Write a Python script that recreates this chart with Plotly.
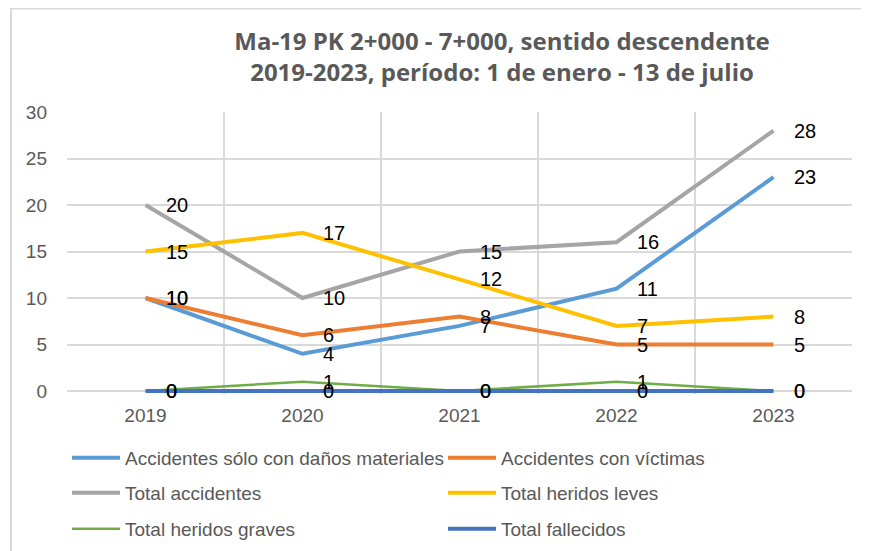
import plotly.graph_objects as go

years = ["2019", "2020", "2021", "2022", "2023"]
series_names = [
    "Accidentes sólo con daños materiales",
    "Accidentes con víctimas",
    "Total accidentes",
    "Total heridos leves",
    "Total heridos graves",
    "Total fallecidos",
]
danos_materiales = [10, 4, 7, 11, 23]
con_victimas = [10, 6, 8, 5, 5]
total_accidentes = [20, 10, 15, 16, 28]
heridos_leves = [15, 17, 12, 7, 8]
heridos_graves = [0, 1, 0, 1, 0]
fallecidos = [0, 0, 0, 0, 0]

values = [danos_materiales, con_victimas, total_accidentes, heridos_leves, heridos_graves, fallecidos]
colors = ["#5B9BD5", "#ED7D31", "#A5A5A5", "#FFC000", "#70AD47", "#4472C4"]
widths = [4, 4, 4, 4, 2.5, 4]
legend_ids = ["legend", "legend", "legend2", "legend2", "legend3", "legend3"]

# the page body has an 8px margin, so the figure is laid out 8px smaller
OFF = 8
W, H = 869 - OFF, 551 - OFF
PAD = 3  # extra pixels below zero so the zero-valued lines are not clipped
L, R, T, B = 67 - OFF, 17, 112 - OFF, 160 - PAD
FONT = "Liberation Sans, Arial, sans-serif"
YMAX = 30
ymin = -PAD * YMAX / (H - T - B - PAD)

fig = go.Figure()
for name, vals, col, w, lg in zip(series_names, values, colors, widths, legend_ids):
    fig.add_trace(go.Scatter(
        x=years, y=vals, name=name, mode="lines",
        line=dict(color=col, width=w),
        legend=lg,
    ))

annotations = []
for vals in values:
    for i, v in enumerate(vals):
        annotations.append(dict(
            x=i, y=v, xref="x", yref="y", text=str(v), showarrow=False,
            xanchor="left", yanchor="middle", xshift=18,
            font=dict(family=FONT, size=20, color="#000000"),
        ))

pw = W - L - R
ph = H - T - B
def px_x(px):
    return (px - OFF - L) / pw
def px_y(py):
    return (H - B - (py - OFF)) / ph

shapes = [
    dict(type="line", xref="paper", yref="paper", x0=px_x(11), x1=px_x(11), y0=px_y(8.5), y1=px_y(560),
         line=dict(color="#D9D9D9", width=2)),
    dict(type="line", xref="paper", yref="paper", x0=px_x(10), x1=px_x(880), y0=px_y(8.5), y1=px_y(8.5),
         line=dict(color="#D9D9D9", width=2)),
]

legend_common = dict(
    orientation="h", xref="container", yref="container",
    xanchor="left", yanchor="middle",
    font=dict(family=FONT, size=19, color="#595959"),
    itemwidth=48, entrywidth=313, bgcolor="rgba(0,0,0,0)",
    traceorder="normal",
)
lx = 59 / W

fig.update_layout(
    width=W, height=H,
    margin=dict(l=L, r=R, t=T, b=B, autoexpand=False),
    paper_bgcolor="white", plot_bgcolor="white",
    showlegend=True,
    title=dict(
        text="Ma-19 PK 2+000 - 7+000, sentido descendente<br>2019-2023, período: 1 de enero - 13 de julio",
        x=(502 - OFF) / W, xanchor="center", xref="container",
        y=1 - 42 / H, yanchor="top", yref="container",
        font=dict(family="Open Sans, Liberation Sans, sans-serif", size=24, color="#595959", weight="bold"),
    ),
    xaxis=dict(
        type="category", range=[-0.5, 4.5], tickson="boundaries",
        showgrid=True, gridcolor="#D9D9D9", gridwidth=1.5,
        showline=False,
        ticks="", ticklabelstandoff=8,
        tickfont=dict(family=FONT, size=19, color="#595959"),
        zeroline=False, fixedrange=True,
    ),
    yaxis=dict(
        range=[ymin, YMAX], dtick=5, tick0=0,
        showgrid=True, gridcolor="#D9D9D9", gridwidth=1.5,
        zeroline=True, zerolinecolor="#D9D9D9", zerolinewidth=2,
        showline=False, ticks="", ticklabelstandoff=19,
        tickfont=dict(family=FONT, size=19, color="#595959"),
        fixedrange=True,
    ),
    legend=dict(**legend_common, x=lx, y=1 - (458 - OFF) / H),
    legend2=dict(**legend_common, x=lx, y=1 - (493 - OFF) / H),
    legend3=dict(**legend_common, x=lx, y=1 - (529 - OFF) / H),
    annotations=annotations,
    shapes=shapes,
)

fig.write_html("out.html")
